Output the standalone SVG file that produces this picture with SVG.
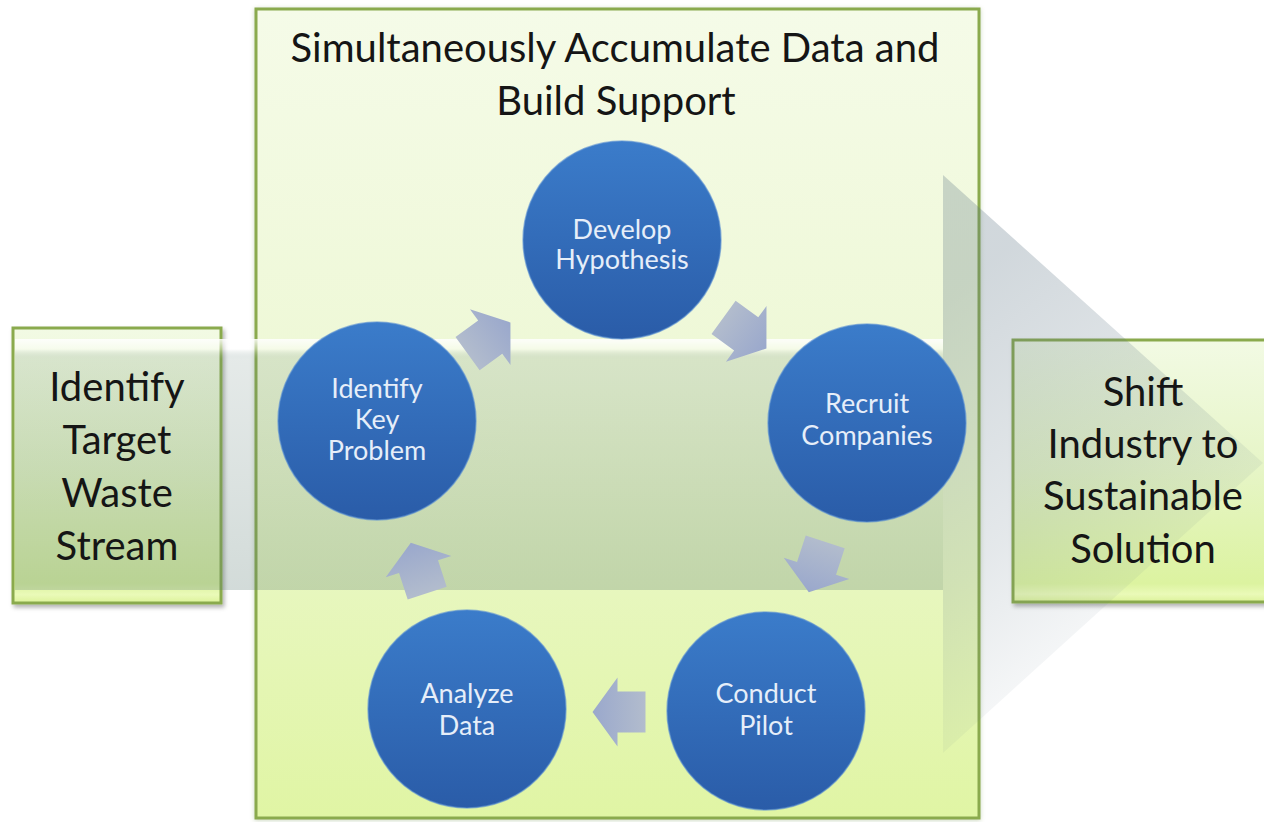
<svg xmlns="http://www.w3.org/2000/svg" width="1264" height="822" viewBox="0 0 1264 822">
  <defs>
    <linearGradient id="bigFill" x1="0" y1="0" x2="0" y2="1">
      <stop offset="0" stop-color="#f5fbe8"/>
      <stop offset="0.45" stop-color="#eef8d6"/>
      <stop offset="1" stop-color="#e0f5a4"/>
    </linearGradient>
    <linearGradient id="sideFill" x1="0" y1="0" x2="0" y2="1">
      <stop offset="0" stop-color="#f2fae4"/>
      <stop offset="0.5" stop-color="#e6f5c6"/>
      <stop offset="0.93" stop-color="#dcf3a0"/>
      <stop offset="0.97" stop-color="#eafab8"/>
      <stop offset="1" stop-color="#dcf29a"/>
    </linearGradient>
    <linearGradient id="bandGrad" x1="0" y1="0" x2="0" y2="1">
      <stop offset="0" stop-color="#ffffff" stop-opacity="0.85"/>
      <stop offset="0.04" stop-color="#ffffff" stop-opacity="0.4"/>
      <stop offset="0.08" stop-color="#5a7a72" stop-opacity="0.16"/>
      <stop offset="0.6" stop-color="#5a7a72" stop-opacity="0.22"/>
      <stop offset="1" stop-color="#5a7a72" stop-opacity="0.27"/>
    </linearGradient>
    <linearGradient id="headGrad" gradientUnits="userSpaceOnUse" x1="943" y1="300" x2="1180" y2="600">
      <stop offset="0" stop-color="#5a7282" stop-opacity="0.28"/>
      <stop offset="0.6" stop-color="#5a7282" stop-opacity="0.16"/>
      <stop offset="1" stop-color="#5a7282" stop-opacity="0.04"/>
    </linearGradient>
    <linearGradient id="circleFill" x1="0" y1="0" x2="0" y2="1">
      <stop offset="0" stop-color="#3b7cca"/>
      <stop offset="1" stop-color="#2a5ca8"/>
    </linearGradient>
    <linearGradient id="arrowFill" x1="1" y1="0" x2="0" y2="0">
      <stop offset="0" stop-color="#9aa8cc"/>
      <stop offset="1" stop-color="#b2bccd"/>
    </linearGradient>
    <filter id="shadow" x="-10%" y="-10%" width="130%" height="130%">
      <feDropShadow dx="2" dy="3" stdDeviation="2" flood-color="#000" flood-opacity="0.3"/>
    </filter>
    <filter id="soft" x="-10%" y="-10%" width="120%" height="120%">
      <feDropShadow dx="0" dy="1" stdDeviation="2" flood-color="#6a8a40" flood-opacity="0.35"/>
    </filter>
    <path id="smallArrow" d="M -26.5,-20.5 L 1.5,-20.5 L 1.5,-34.5 L 26.5,0 L 1.5,34.5 L 1.5,20.5 L -26.5,20.5 Z"/>
  </defs>
  <style>
    .box { stroke: #8aaa4e; stroke-width: 3; }
    .boxText { font-family: Lato, "Liberation Sans", sans-serif; font-size: 40px; fill: #151515; text-anchor: middle; }
    .circle { fill: url(#circleFill); stroke: #5a8fd2; stroke-width: 1.5; stroke-opacity: 0.6; }
    .circleText { font-family: Lato, "Liberation Sans", sans-serif; font-size: 27px; fill: #e6eef9; text-anchor: middle; }
    .arrow { fill: url(#arrowFill); }
  </style>
  <rect width="1264" height="822" fill="#ffffff"/>

  <g id="main-box">
    <rect class="box" x="256" y="9" width="723" height="809" fill="url(#bigFill)" filter="url(#soft)"/>
  </g>
  <g id="start-box-shape">
    <rect class="box" x="13" y="328" width="208" height="275" fill="url(#sideFill)" filter="url(#shadow)"/>
  </g>
  <g id="end-box-shape">
    <rect class="box" x="1013" y="340" width="262" height="262" fill="url(#sideFill)" filter="url(#shadow)"/>
  </g>

  <g id="big-arrow">
    <rect x="15" y="339" width="928" height="251" fill="url(#bandGrad)"/>
    <path d="M 943,175 L 1263,463 L 943,753 Z" fill="url(#headGrad)"/>
  </g>

  <g id="connectors">
    <use href="#smallArrow" class="arrow" transform="translate(489,338) rotate(-36)"/>
    <use href="#smallArrow" class="arrow" transform="translate(745,333) rotate(36)"/>
    <use href="#smallArrow" class="arrow" transform="translate(817,567) rotate(108)"/>
    <use href="#smallArrow" class="arrow" transform="translate(619,712) rotate(180)"/>
    <use href="#smallArrow" class="arrow" transform="translate(419,568) rotate(252)"/>
  </g>

  <g id="title">
    <text class="boxText" x="615" y="62" font-size="40.5">Simultaneously Accumulate Data and</text>
    <text class="boxText" x="616" y="115" font-size="40.5">Build Support</text>
  </g>

  <g id="start-box">
    <text class="boxText" x="117" y="401">Identify</text>
    <text class="boxText" x="117" y="454">Target</text>
    <text class="boxText" x="117" y="507">Waste</text>
    <text class="boxText" x="117" y="560">Stream</text>
  </g>

  <g id="end-box">
    <text class="boxText" x="1143" y="406">Shift</text>
    <text class="boxText" x="1143" y="458">Industry to</text>
    <text class="boxText" x="1143" y="510">Sustainable</text>
    <text class="boxText" x="1143" y="563">Solution</text>
  </g>

  <g id="node-develop">
    <circle class="circle" cx="622" cy="240" r="99"/>
    <text class="circleText" x="622" y="239">Develop</text>
    <text class="circleText" x="622" y="269">Hypothesis</text>
  </g>
  <g id="node-recruit">
    <circle class="circle" cx="867" cy="423" r="99"/>
    <text class="circleText" x="867" y="413">Recruit</text>
    <text class="circleText" x="867" y="445">Companies</text>
  </g>
  <g id="node-conduct">
    <circle class="circle" cx="766" cy="711" r="99"/>
    <text class="circleText" x="766" y="703">Conduct</text>
    <text class="circleText" x="766" y="735">Pilot</text>
  </g>
  <g id="node-analyze">
    <circle class="circle" cx="467" cy="709" r="99"/>
    <text class="circleText" x="467" y="703">Analyze</text>
    <text class="circleText" x="467" y="735">Data</text>
  </g>
  <g id="node-identify">
    <circle class="circle" cx="377" cy="421" r="99"/>
    <text class="circleText" x="377" y="398">Identify</text>
    <text class="circleText" x="377" y="429">Key</text>
    <text class="circleText" x="377" y="460">Problem</text>
  </g>
</svg>
